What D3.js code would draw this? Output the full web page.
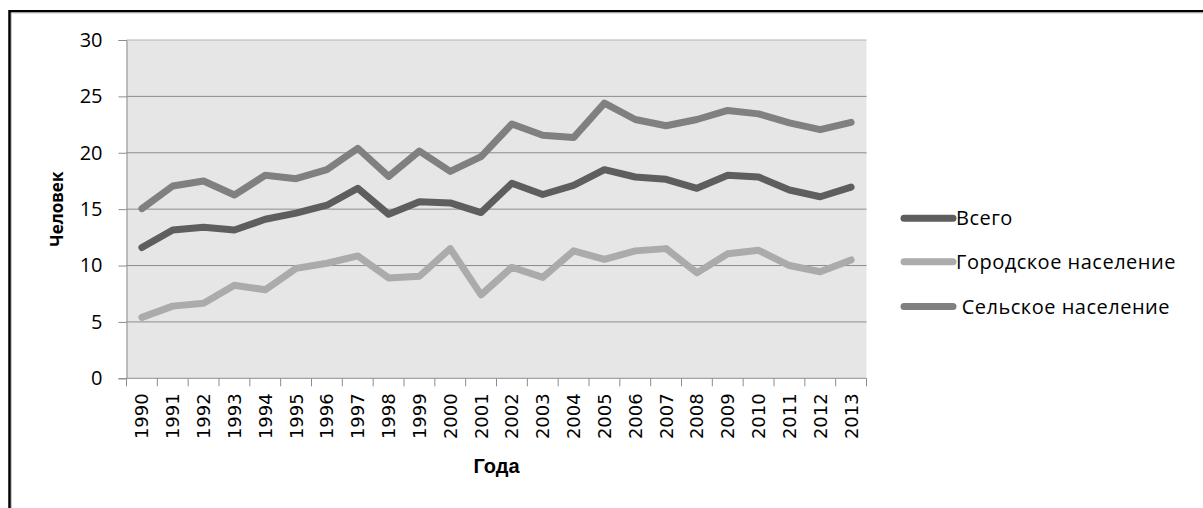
<!DOCTYPE html>
<html>
<head>
<meta charset="utf-8">
<script src="https://cdn.jsdelivr.net/npm/d3@7"></script>
<style>
  html, body { margin: 0; padding: 0; background: #fff; }
  svg { display: block; }
</style>
</head>
<body>
<svg id="chart" width="1203" height="508"></svg>
<script>
// Years on the category axis
const years = ["1990","1991","1992","1993","1994","1995","1996","1997","1998","1999","2000","2001",
               "2002","2003","2004","2005","2006","2007","2008","2009","2010","2011","2012","2013"];

// Series values, persons
const total = [11.6,13.15,13.4,13.15,14.1,14.65,15.35,16.85,14.55,15.65,15.55,14.7,
               17.3,16.3,17.1,18.5,17.85,17.65,16.85,18.0,17.85,16.7,16.1,16.95];
const urban = [5.4,6.4,6.65,8.25,7.85,9.75,10.2,10.85,8.9,9.05,11.5,7.4,
               9.85,8.95,11.3,10.55,11.3,11.5,9.35,11.05,11.35,10.0,9.45,10.5];
const rural = [15.05,17.05,17.5,16.25,18.0,17.7,18.5,20.4,17.9,20.15,18.35,19.65,
               22.55,21.55,21.35,24.4,22.95,22.4,22.95,23.75,23.45,22.65,22.05,22.7];

// y-axis ticks
const yTicks = [0,5,10,15,20,25,30];

// Series names for the legend
const seriesNames = ["Всего", "Городское население", " Сельское население"];

const series = [
  { name: seriesNames[0], values: total, color: "#5e5e5e" },
  { name: seriesNames[1], values: urban, color: "#ababab" },
  { name: seriesNames[2], values: rural, color: "#808080" }
];

const svg = d3.select("#chart");

// outer frame of the chart object
svg.append("rect")
  .attr("x", 9.5).attr("y", 11.25)
  .attr("width", 1300).attr("height", 600)
  .attr("fill", "none").attr("stroke", "#000").attr("stroke-width", 2.5);
svg.append("line")
  .attr("x1", 11.5).attr("x2", 1203).attr("y1", 13).attr("y2", 13)
  .attr("stroke", "#c8c8c8").attr("stroke-width", 1);
svg.append("line")
  .attr("x1", 11.5).attr("x2", 11.5).attr("y1", 13).attr("y2", 508)
  .attr("stroke", "#c8c8c8").attr("stroke-width", 1);

const plot = { left: 126.5, right: 866.5, top: 40, bottom: 378.3 };

const x = d3.scaleBand().domain(years).range([plot.left, plot.right]).paddingInner(0).paddingOuter(0);
const y = d3.scaleLinear().domain([0, 30]).range([plot.bottom, plot.top]);

// plot area background
svg.append("rect")
  .attr("x", plot.left).attr("y", plot.top)
  .attr("width", plot.right - plot.left).attr("height", plot.bottom - plot.top)
  .attr("fill", "#e6e6e6");

// horizontal gridlines
svg.append("g")
  .selectAll("line")
  .data(yTicks.filter(d => d > 0))
  .join("line")
  .attr("x1", plot.left).attr("x2", plot.right)
  .attr("y1", d => y(d)).attr("y2", d => y(d))
  .attr("stroke", d => d === 30 ? "#b4b4b4" : "#8c8c8c")
  .attr("stroke-width", 1);

// y axis
const yAxis = svg.append("g")
  .attr("transform", `translate(${plot.left},0)`)
  .call(d3.axisLeft(y).tickValues(yTicks).tickSize(8).tickPadding(16));
yAxis.select(".domain").attr("stroke", "#8c8c8c");
yAxis.selectAll(".tick line").attr("stroke", "#8c8c8c");
yAxis.selectAll(".tick text")
  .attr("fill", "#000")
  .style("font-family", "'Open Sans', sans-serif")
  .style("font-size", "20px");

// x axis: ticks sit on the category boundaries
const xAxisG = svg.append("g").attr("transform", `translate(0,${plot.bottom})`);
xAxisG.append("line")
  .attr("x1", plot.left).attr("x2", plot.right)
  .attr("y1", 0).attr("y2", 0)
  .attr("stroke", "#8c8c8c");
const boundaries = years.map(d => x(d)).concat([x(years[years.length - 1]) + x.bandwidth()]);
xAxisG.selectAll("line.tk")
  .data(boundaries)
  .join("line")
  .attr("class", "tk")
  .attr("x1", d => d).attr("x2", d => d)
  .attr("y1", 0).attr("y2", 8)
  .attr("stroke", "#8c8c8c");
xAxisG.selectAll("text")
  .data(years)
  .join("text")
  .attr("transform", d => `translate(${x(d) + x.bandwidth() / 2 + 6.5},${15}) rotate(-90)`)
  .attr("text-anchor", "end")
  .style("font-family", "'DejaVu Sans', sans-serif")
  .style("font-size", "18px")
  .attr("fill", "#000")
  .text(d => d);

// axis titles
svg.append("text")
  .attr("x", (plot.left + plot.right) / 2)
  .attr("y", 473)
  .attr("text-anchor", "middle")
  .style("font-family", "'Liberation Sans Narrow', 'Arial Narrow', sans-serif")
  .style("font-weight", "bold")
  .style("font-size", "20px")
  .text("Года");

svg.append("text")
  .attr("transform", `translate(63,${(plot.top + plot.bottom) / 2}) rotate(-90)`)
  .attr("text-anchor", "middle")
  .style("font-family", "'Open Sans', sans-serif")
  .style("font-weight", "bold")
  .style("font-size", "17px")
  .text("Человек");

// series lines
const line = d3.line()
  .x((d, i) => x(years[i]) + x.bandwidth() / 2)
  .y(d => y(d));

svg.append("g")
  .selectAll("path")
  .data(series)
  .join("path")
  .attr("d", d => line(d.values))
  .attr("fill", "none")
  .attr("stroke", d => d.color)
  .attr("stroke-width", 7)
  .attr("stroke-linejoin", "round")
  .attr("stroke-linecap", "round");

// legend
const legendY = [218.3, 261.7, 306.5];
const lg = svg.append("g");
lg.selectAll("line")
  .data(series)
  .join("line")
  .attr("x1", 904).attr("x2", 953)
  .attr("y1", (d, i) => legendY[i]).attr("y2", (d, i) => legendY[i])
  .attr("stroke", d => d.color)
  .attr("stroke-width", 7)
  .attr("stroke-linecap", "round");
lg.selectAll("text")
  .data(series)
  .join("text")
  .attr("x", 956)
  .attr("y", (d, i) => legendY[i] + 7)
  .style("font-family", "'Open Sans', sans-serif")
  .style("font-size", "20px")
  .style("letter-spacing", "0.5px")
  .style("white-space", "pre")
  .attr("xml:space", "preserve")
  .attr("fill", "#000")
  .text(d => d.name);
</script>
</body>
</html>
